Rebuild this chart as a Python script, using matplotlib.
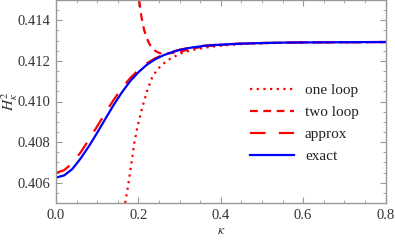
import numpy as np
import matplotlib
matplotlib.use("Agg")
import matplotlib.pyplot as plt
from matplotlib.ticker import MultipleLocator

# exact
k_exact = [0.0, 0.02, 0.04, 0.06, 0.08, 0.10, 0.12, 0.14, 0.16, 0.18, 0.20, 0.22, 0.24, 0.26, 0.28, 0.30, 0.33, 0.36, 0.40, 0.45, 0.50, 0.55, 0.60, 0.70, 0.80]
h_exact = [0.40625, 0.40636, 0.40668, 0.40720, 0.40780, 0.40846, 0.40915, 0.40983, 0.41045, 0.41100, 0.41144, 0.41180, 0.41207, 0.41227, 0.41242, 0.41254, 0.41266, 0.41274, 0.41280, 0.41285, 0.41288, 0.41290, 0.41291, 0.41292, 0.41293]
# approx
k_approx = [0.0, 0.02, 0.04, 0.06, 0.08, 0.10, 0.12, 0.14, 0.16, 0.18, 0.20, 0.22, 0.24, 0.26, 0.28, 0.30, 0.33, 0.36, 0.40, 0.45, 0.50, 0.60, 0.70, 0.80]
h_approx = [0.40648, 0.40662, 0.40697, 0.40750, 0.40812, 0.40878, 0.40944, 0.41008, 0.41066, 0.41115, 0.41155, 0.41188, 0.41212, 0.41230, 0.41244, 0.41255, 0.41267, 0.41275, 0.41281, 0.41285, 0.41288, 0.41291, 0.41292, 0.41293]
# one loop
k_one = [0.168, 0.175, 0.182, 0.190, 0.198, 0.210, 0.222, 0.234, 0.247, 0.263, 0.279, 0.303, 0.327, 0.36, 0.40, 0.45, 0.50, 0.60, 0.70, 0.80]
h_one = [0.40500, 0.40585, 0.40680, 0.40795, 0.40877, 0.40975, 0.41057, 0.41122, 0.41160, 0.41190, 0.41213, 0.41237, 0.41252, 0.41265, 0.41275, 0.41283, 0.41287, 0.41291, 0.41292, 0.41293]
# two loop
k_two = [0.202, 0.206, 0.210, 0.214, 0.220, 0.226, 0.232, 0.238, 0.246, 0.255, 0.265, 0.279, 0.303, 0.33, 0.36, 0.40, 0.45, 0.50, 0.60, 0.70, 0.80]
h_two = [0.41500, 0.41434, 0.41390, 0.41352, 0.41315, 0.41286, 0.41267, 0.41254, 0.41243, 0.41237, 0.41236, 0.41238, 0.41246, 0.41260, 0.41271, 0.41279, 0.41285, 0.41288, 0.41291, 0.41292, 0.41293]

xticks = [0.0, 0.2, 0.4, 0.6, 0.8]
xticklabels = ['0.0', '0.2', '0.4', '0.6', '0.8']
yticks = [0.406, 0.408, 0.410, 0.412, 0.414]
yticklabels = ['0.406', '0.408', '0.410', '0.412', '0.414']

plt.rcParams['font.family'] = ['Liberation Serif', 'DejaVu Serif']
plt.rcParams['mathtext.fontset'] = 'stix'

fig = plt.figure(figsize=(3.95, 2.41), dpi=100)
ax = fig.add_axes([56/395, 1 - 203/241, (385.5 - 56)/395, 203/241])

red = '#ff0000'
ax.plot(k_one, h_one, color=red, lw=1.6, ls=(0, (1, 2)), label='one loop')
ax.plot(k_two, h_two, color=red, lw=1.6, ls=(0, (3.5, 2.5)), label='two loop')
ax.plot(k_approx, h_approx, color=red, lw=1.6, ls=(0, (7, 6)), label='approx')
ax.plot(k_exact, h_exact, color='#0000ff', lw=1.6, label='exact')

ax.set_xlim(0, 0.8)
ax.set_ylim(0.405, 0.415)
ax.xaxis.set_minor_locator(MultipleLocator(0.05))
ax.yaxis.set_minor_locator(MultipleLocator(0.0005))
ax.set_xticks(xticks)
ax.set_xticklabels(xticklabels, fontfamily='Liberation Serif')
ax.set_yticks(yticks)
ax.set_yticklabels(yticklabels, fontfamily='Liberation Serif')

gray = '#999999'
for s in ax.spines.values():
    s.set_color(gray)
    s.set_linewidth(1.0)
ax.tick_params(which='both', direction='in', top=True, right=True, color=gray, labelsize=10.5, labelcolor='#333333')
ax.tick_params(which='major', length=4.5, width=0.8, pad=4)
ax.tick_params(which='minor', length=2.5, width=0.6)

ax.set_xlabel(r'$\kappa$', fontsize=10, color='#333333', labelpad=2)
ax.set_ylabel(r'$H_\kappa^2$', fontsize=11, color='#333333')
ax.yaxis.set_label_coords(-0.11, 0.5)

leg = ax.legend(loc='upper left', bbox_to_anchor=(0.57, 0.62), frameon=False, fontsize=11,
                handlelength=2.9, handletextpad=0.7, labelspacing=0.55, borderaxespad=0)
for t in leg.get_texts():
    t.set_color('#222222')

fig.savefig('out.png', dpi=100)
